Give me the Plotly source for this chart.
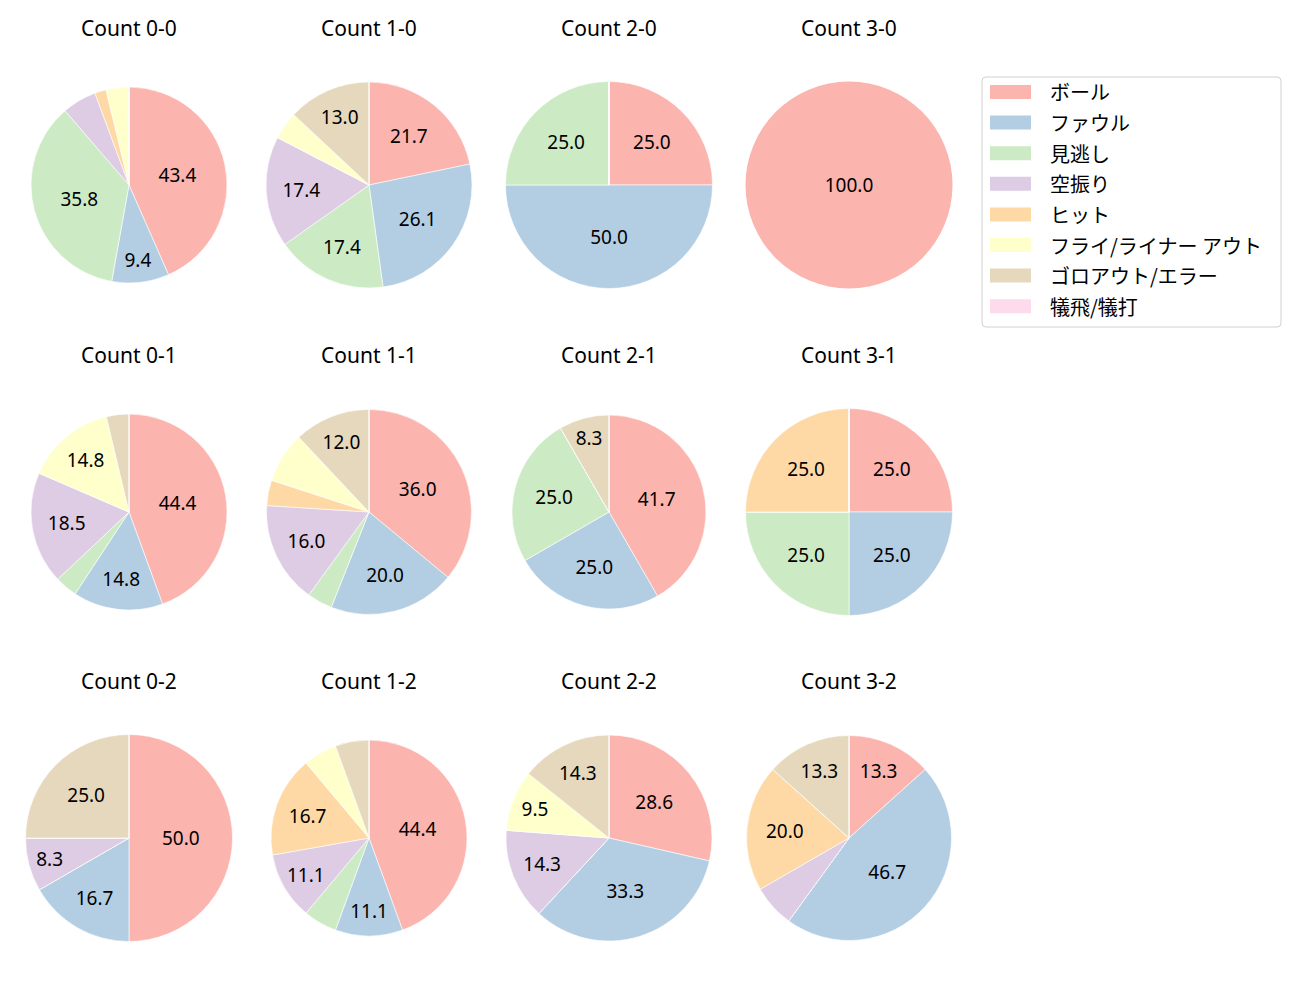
import plotly.graph_objects as go

# ---------------- data ----------------
categories = ["ボール", "ファウル", "見逃し", "空振り", "ヒット",
              "フライ/ライナー アウト", "ゴロアウト/エラー", "犠飛/犠打"]
colors = ["#fbb4ae", "#b3cde3", "#ccebc5", "#decbe4", "#fed9a6",
          "#ffffcc", "#e5d8bd", "#fddaec"]

count_titles = ["Count 0-0", "Count 1-0", "Count 2-0", "Count 3-0",
                "Count 0-1", "Count 1-1", "Count 2-1", "Count 3-1",
                "Count 0-2", "Count 1-2", "Count 2-2", "Count 3-2"]

count_0_0 = [23, 5, 19, 3, 1, 2, 0, 0]
count_1_0 = [5, 6, 4, 4, 0, 1, 3, 0]
count_2_0 = [1, 2, 1, 0, 0, 0, 0, 0]
count_3_0 = [1, 0, 0, 0, 0, 0, 0, 0]
count_0_1 = [12, 4, 1, 5, 0, 4, 1, 0]
count_1_1 = [9, 5, 1, 4, 1, 2, 3, 0]
count_2_1 = [5, 3, 3, 0, 0, 0, 1, 0]
count_3_1 = [1, 1, 1, 0, 1, 0, 0, 0]
count_0_2 = [6, 2, 0, 1, 0, 0, 3, 0]
count_1_2 = [8, 2, 1, 2, 3, 1, 1, 0]
count_2_2 = [6, 7, 0, 3, 0, 2, 3, 0]
count_3_2 = [2, 7, 0, 1, 3, 0, 2, 0]

all_counts = [count_0_0, count_1_0, count_2_0, count_3_0,
              count_0_1, count_1_1, count_2_1, count_3_1,
              count_0_2, count_1_2, count_2_2, count_3_2]

# ---------------- layout (pixels, in screenshot space) ----------------
W, H = 1300, 1000
OFF = 8  # page body margin
col_cx = [129, 369, 609, 849]
row_cy = [185, 512, 838]
radii = [98, 103, 103.5, 103.5,
         98, 102.5, 97, 103.5,
         103.5, 98, 103, 102.5]
title_dy = 157
LATIN = "Noto Sans, Noto Sans CJK JP, DejaVu Sans"
CJK = "Noto Sans CJK JP, Noto Sans, DejaVu Sans"
LABEL_MIN_PCT = 8.2


def px(x):
    return (x - OFF) / W


def py(y):
    return 1 - (y - OFF) / H


fig = go.Figure()
annotations = []
shapes = []

for i, (title, vals) in enumerate(zip(count_titles, all_counts)):
    r_i, c_i = divmod(i, 4)
    cx, cy, rad = col_cx[c_i], row_cy[r_i], radii[i]
    total = sum(vals)
    texts = []
    for v in vals:
        p = v / total * 100
        texts.append(f"{p:.1f}" if p > LABEL_MIN_PCT else "")
    n_nonzero = sum(1 for v in vals if v > 0)
    fig.add_trace(go.Pie(
        labels=categories,
        values=vals,
        text=texts,
        textinfo="text",
        textposition="inside",
        insidetextorientation="horizontal",
        textfont=dict(family=LATIN, size=19, color="black"),
        marker=dict(colors=colors,
                    line=dict(color="white", width=0.6 if n_nonzero > 1 else 0)),
        sort=False,
        direction="clockwise",
        rotation=0,
        hoverinfo="label+percent",
        showlegend=False,
        domain=dict(x=[px(cx - rad), px(cx + rad)],
                    y=[py(cy + rad), py(cy - rad)]),
    ))
    annotations.append(dict(
        text=title, x=px(cx), y=py(cy - title_dy),
        xref="paper", yref="paper", xanchor="center", yanchor="middle",
        showarrow=False, font=dict(family=LATIN, size=21, color="black"),
    ))

# ---------------- custom legend ----------------
lx0, lx1, ly0, ly1, rr = 982, 1281, 77, 327, 4
path = (f"M{px(lx0+rr)},{py(ly0)} L{px(lx1-rr)},{py(ly0)} "
        f"Q{px(lx1)},{py(ly0)} {px(lx1)},{py(ly0+rr)} "
        f"L{px(lx1)},{py(ly1-rr)} Q{px(lx1)},{py(ly1)} {px(lx1-rr)},{py(ly1)} "
        f"L{px(lx0+rr)},{py(ly1)} Q{px(lx0)},{py(ly1)} {px(lx0)},{py(ly1-rr)} "
        f"L{px(lx0)},{py(ly0+rr)} Q{px(lx0)},{py(ly0)} {px(lx0+rr)},{py(ly0)} Z")
shapes.append(dict(type="path", path=path, xref="paper", yref="paper",
                   line=dict(color="#d0d0d0", width=1), fillcolor="white"))
item_y0, item_dy = 92, 30.6
for k, (name, col) in enumerate(zip(categories, colors)):
    yc = item_y0 + k * item_dy
    shapes.append(dict(type="rect", xref="paper", yref="paper",
                       x0=px(990), x1=px(1031), y0=py(yc - 7), y1=py(yc + 7),
                       fillcolor=col, line=dict(width=0)))
    annotations.append(dict(
        text=name, x=px(1048), y=py(yc), xref="paper", yref="paper",
        xanchor="left", yanchor="middle", showarrow=False,
        font=dict(family=CJK, size=20, color="black"),
    ))

fig.update_layout(
    width=W, height=H,
    margin=dict(l=0, r=0, t=0, b=0),
    paper_bgcolor="white", plot_bgcolor="white",
    annotations=annotations, shapes=shapes,
    font=dict(family=LATIN),
)

fig.write_html("out.html")
